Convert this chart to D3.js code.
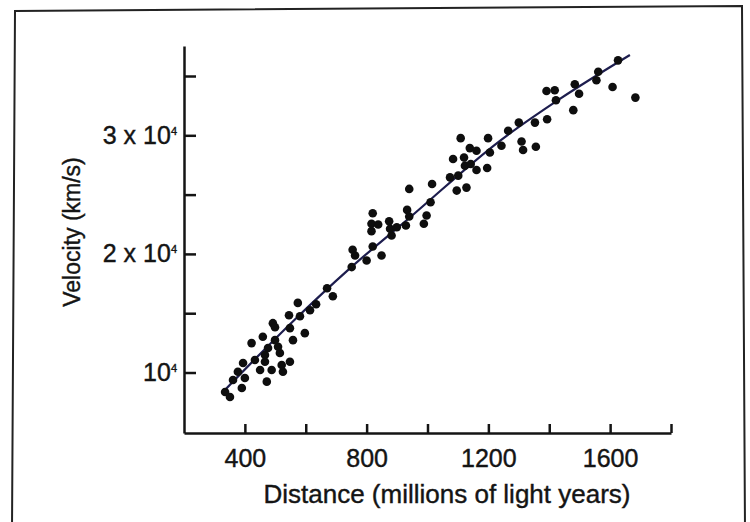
<!DOCTYPE html>
<html>
<head>
<meta charset="utf-8">
<script src="https://cdn.jsdelivr.net/npm/d3@7"></script>
<style>
    html, body { margin: 0; padding: 0; background: #fff; }
    svg { display: block; font-family: "Liberation Sans", Arial, sans-serif; }
</style>
</head>
<body>
<div id="chart"></div>
<script>
// galaxies: distance (millions of light years) and recession velocity (km/s)
const distances = [
    335, 351, 390, 361, 400, 472, 377, 450, 488, 525,
    394, 433, 466, 548, 521, 466, 515, 422, 509, 476,
    459, 499, 558, 492, 499, 548, 597, 545, 581, 574,
    634, 614, 670, 689, 751, 800, 849, 754, 762, 820,
    882, 816, 816, 838, 820, 874, 877, 899, 929, 933,
    940, 940, 988, 997, 1010, 1015, 1074, 1101, 1096, 1128,
    1084, 1120, 1123, 1142, 1161, 1196, 1139, 1161, 1109, 1205,
    1199, 1243, 1265, 1300, 1309, 1314, 1356, 1353, 1393, 1422,
    1391, 1418, 1479, 1484, 1498, 1561, 1555, 1608, 1626, 1683
];
const velocities = [
    8360, 7940, 8700, 9370, 9540, 9230, 10070, 10210, 10210, 10070,
    10800, 11050, 10910, 10910, 10630, 11470, 11640, 12480, 12170, 12060,
    13010, 12730, 12730, 14160, 13820, 13740, 13320, 14830, 14750, 15870,
    15760, 15250, 17100, 16430, 18890, 19450, 19870, 20350, 19870, 20630,
    21550, 21920, 22540, 22480, 23430, 22760, 22120, 22250, 22390, 23710,
    23150, 25480, 22540, 23240, 24350, 25900, 26450, 26600, 25340, 25590,
    28000, 28130, 27440, 27580, 27080, 27240, 28920, 28700, 29760, 28550,
    29760, 29120, 30380, 31070, 29480, 28760, 29030, 31070, 31360, 32960,
    33740, 33800, 32120, 34300, 33510, 35360, 34640, 34070, 36320, 33180
];

// best-fit curve
const fitDistance = [325, 555, 745, 942, 1238, 1435, 1665];
const fitVelocity = [8280, 14240, 18780, 23070, 29540, 33070, 36770];

const xTicks = [400, 600, 800, 1000, 1200, 1400, 1600, 1800];
const xLabelled = [400, 800, 1200, 1600];
const yTicks = [10000, 15000, 20000, 25000, 30000, 35000];
const yLabels = { 10000: ['10', '4'], 20000: ['2 x 10', '4'], 30000: ['3 x 10', '4'] };

const width = 750, height = 522;
const margin = { left: 184, top: 46, right: 79, bottom: 89 };
const innerW = width - margin.left - margin.right;
const innerH = height - margin.top - margin.bottom;
const ink = '#141414';

const svg = d3.select('#chart').append('svg')
    .attr('width', width)
    .attr('height', height);

// scanned frame round the figure (slightly skewed)
svg.append('path')
    .attr('d', 'M12,530 L15,11 L742,6 L745,530')
    .attr('fill', 'none')
    .attr('stroke', '#222')
    .attr('stroke-width', 2);

const g = svg.append('g')
    .attr('transform', `translate(${margin.left}, ${margin.top})`);

const x = d3.scaleLinear().domain([200, 1800]).range([0, innerW]);
const y = d3.scaleLinear().domain([4900, 37530]).range([innerH, 0]);

const xAxis = g.append('g')
    .attr('transform', `translate(0, ${innerH})`)
    .call(d3.axisBottom(x)
        .tickValues(xTicks)
        .tickSizeInner(-9)
        .tickSizeOuter(0)
        .tickPadding(16)
        .tickFormat(d => xLabelled.includes(d) ? d : ''));

const yAxis = g.append('g')
    .call(d3.axisLeft(y)
        .tickValues(yTicks)
        .tickSizeInner(-12)
        .tickSizeOuter(0)
        .tickPadding(7)
        .tickFormat(() => ''));

[xAxis, yAxis].forEach(ax => {
    ax.select('.domain').attr('stroke', ink).attr('stroke-width', 2.5);
    ax.selectAll('.tick line').attr('stroke', ink).attr('stroke-width', 2.5);
    ax.selectAll('.tick text')
        .attr('fill', ink)
        .attr('stroke', ink)
        .attr('stroke-width', 0.4)
        .style('font-size', '25px')
        .style('font-family', '"Liberation Sans", Arial, sans-serif');
});

// y labels with a raised exponent
yAxis.selectAll('.tick text').each(function (d) {
    const lab = yLabels[d];
    if (!lab) return;
    const t = d3.select(this);
    t.append('tspan').text(lab[0]);
    t.append('tspan').text(lab[1])
        .attr('dy', -9)
        .style('font-size', '11px');
});

// fit curve
const fitPoints = fitDistance.map((d, i) => [d, fitVelocity[i]]);
g.append('path')
    .datum(fitPoints)
    .attr('fill', 'none')
    .attr('stroke', '#1d1d4e')
    .attr('stroke-width', 2.2)
    .attr('d', d3.line()
        .x(d => x(d[0]))
        .y(d => y(d[1]))
        .curve(d3.curveMonotoneX));

// galaxies
const points = distances.map((d, i) => ({ d, v: velocities[i] }));
g.selectAll('circle.pt')
    .data(points)
    .join('circle')
    .attr('class', 'pt')
    .attr('cx', p => x(p.d))
    .attr('cy', p => y(p.v))
    .attr('r', 4.3)
    .attr('fill', '#0e0e0e');

// axis titles
svg.append('text')
    .attr('x', 447)
    .attr('y', 503)
    .attr('text-anchor', 'middle')
    .attr('fill', ink)
    .attr('stroke', ink)
    .attr('stroke-width', 0.4)
    .style('font-size', '26px')
    .text('Distance (millions of light years)');

svg.append('text')
    .attr('transform', 'translate(80, 232) rotate(-90)')
    .attr('text-anchor', 'middle')
    .attr('fill', ink)
    .attr('stroke', ink)
    .attr('stroke-width', 0.4)
    .style('font-size', '23px')
    .text('Velocity (km/s)');
</script>
</body>
</html>
